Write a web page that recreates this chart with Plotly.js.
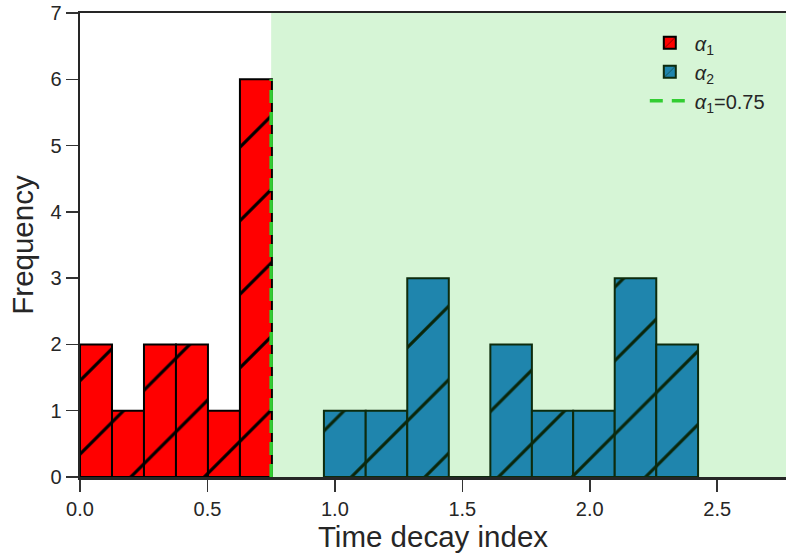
<!DOCTYPE html>
<html>
<head>
<meta charset="utf-8">
<script src="https://cdn.plot.ly/plotly-3.0.1.min.js"></script>
<style>
  html, body { margin: 0; padding: 0; background: #fff; }
  #chart { width: 786px; height: 556px; }
</style>
</head>
<body>
<div id="chart"></div>
<script>
// ---- data ----
const alpha1Edges = [0, 0.1255, 0.251, 0.3765, 0.502, 0.6275, 0.753];
const alpha1Counts = [2, 1, 2, 2, 1, 6];
const alpha2Edges = [0.957, 1.121, 1.284, 1.447, 1.610, 1.773, 1.935, 2.098, 2.261, 2.425];
const alpha2Counts = [1, 1, 3, 0, 2, 1, 1, 3, 2];
const thresholdX = 0.75;
const thresholdTop = 6;
const xTicks = [0, 0.5, 1.0, 1.5, 2.0, 2.5];
const yTicks = [0, 1, 2, 3, 4, 5, 6, 7];
const seriesNames = ['<i>α</i><sub>1</sub>', '<i>α</i><sub>2</sub>', '<i>α</i><sub>1</sub>=0.75'];

function centers(edges) { return edges.slice(0, -1).map((e, i) => (e + edges[i + 1]) / 2); }
function widths(edges) { return edges.slice(0, -1).map((e, i) => edges[i + 1] - e); }

const FONT = 'Liberation Sans, Arial, sans-serif';
const INK = '#262626';

const traces = [
  {
    type: 'bar', name: seriesNames[0],
    x: centers(alpha1Edges), y: alpha1Counts, width: widths(alpha1Edges),
    marker: {
      color: '#ff0000',
      line: { color: '#000000', width: 2 },
      pattern: { shape: '/', size: 52, solidity: 0.06, fgcolor: '#000000', fgopacity: 1, bgcolor: '#ff0000', fillmode: 'overlay' }
    }
  },
  {
    type: 'bar', name: seriesNames[1],
    x: centers(alpha2Edges), y: alpha2Counts, width: widths(alpha2Edges),
    marker: {
      color: '#1f85ad',
      line: { color: '#0d2b0d', width: 2 },
      pattern: { shape: '/', size: 52, solidity: 0.06, fgcolor: '#0a260a', fgopacity: 1, bgcolor: '#1f85ad', fillmode: 'overlay' }
    }
  },
  {
    type: 'scatter', mode: 'lines', name: seriesNames[2],
    x: [thresholdX, thresholdX], y: [0, thresholdTop],
    line: { color: '#32cd32', width: 3.5, dash: '13px,9px' }
  }
];

const layout = {
  width: 786, height: 556,
  margin: { l: 80, r: 0, t: 13, b: 79, pad: 0 },
  paper_bgcolor: '#ffffff', plot_bgcolor: '#ffffff',
  font: { family: FONT, color: INK, size: 20 },
  barmode: 'overlay',
  bargap: 0,
  showlegend: true,
  legend: {
    x: 0.8, y: 0.978, xanchor: 'left', yanchor: 'top',
    bgcolor: 'rgba(0,0,0,0)', borderwidth: 0,
    font: { family: FONT, size: 20, color: INK },
    itemwidth: 40
  },
  xaxis: {
    range: [0, 2.77], autorange: false,
    tickmode: 'array', tickvals: xTicks, ticktext: xTicks.map(v => v.toFixed(1)),
    ticks: 'outside', ticklen: 12, tickwidth: 1.5, tickcolor: '#333333',
    showline: true, linecolor: '#262626', linewidth: 2.5, mirror: true,
    showgrid: false, zeroline: false,
    tickfont: { family: FONT, size: 20, color: INK },
    title: { text: 'Time decay index', font: { family: FONT, size: 29.5, color: INK }, standoff: 8 }
  },
  yaxis: {
    range: [0, 7], autorange: false,
    tickmode: 'array', tickvals: yTicks,
    ticks: 'outside', ticklen: 12, tickwidth: 1.5, tickcolor: '#333333',
    showline: true, linecolor: '#262626', linewidth: 2.5,
    showgrid: false, zeroline: false,
    tickfont: { family: FONT, size: 20, color: INK },
    title: { text: 'Frequency', font: { family: FONT, size: 29.5, color: INK }, standoff: 8 }
  },
  shapes: [
    {
      type: 'rect', layer: 'below', xref: 'x', yref: 'paper',
      x0: thresholdX, x1: 2.77, y0: 0, y1: 1,
      fillcolor: 'rgb(214,245,214)', line: { width: 0 }
    }
  ]
};

Plotly.newPlot('chart', traces, layout, { displayModeBar: false, staticPlot: true });
</script>
</body>
</html>
